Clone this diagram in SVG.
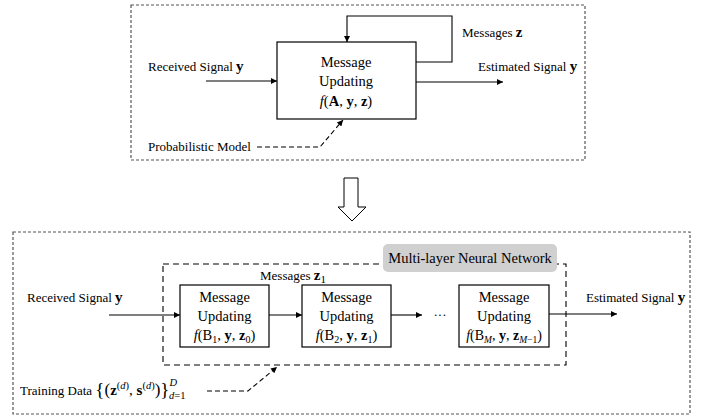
<svg xmlns="http://www.w3.org/2000/svg" width="709" height="420" viewBox="0 0 709 420">
<style>
text{font-family:"Liberation Serif","Times New Roman",serif;fill:#000}
.lbl{font-size:13px}
.box{font-size:14.5px;text-anchor:middle}
.b{font-weight:bold}
.i{font-style:italic}
.node{fill:#fff;stroke:#000;stroke-width:1.2}
.outer{fill:none;stroke:#555;stroke-width:1.2;stroke-dasharray:3,2}
.inner{fill:none;stroke:#000;stroke-width:1.1;stroke-dasharray:6,4}
.line{fill:none;stroke:#000;stroke-width:1.1}
.dash{fill:none;stroke:#000;stroke-width:1.1;stroke-dasharray:5,3}
</style>
<defs>
<marker id="ah" viewBox="0 0 10 10" refX="10" refY="5" markerWidth="8" markerHeight="6" markerUnits="userSpaceOnUse" orient="auto">
<path d="M0,0 L10,5 L0,10 Z" fill="#000"/>
</marker>
</defs>

<g id="top-frame">
<rect class="outer" x="131" y="5" width="454" height="155"/>
</g>
<g id="bottom-frame">
<rect class="outer" x="13" y="232" width="677" height="182"/>
<rect class="inner" x="163" y="264" width="403" height="101"/>
<rect x="383" y="244" width="174" height="28" rx="5" fill="#d0d0d0"/>
<text x="470" y="263" style="font-size:14.5px;text-anchor:middle">Multi-layer Neural Network</text>
</g>

<g id="connectors">
<line class="line" x1="206" y1="81" x2="277" y2="81" marker-end="url(#ah)"/>
<line class="line" x1="416" y1="82" x2="503" y2="82" marker-end="url(#ah)"/>
<polyline class="line" points="416,62 452,62 452,16 347,16 347,42" marker-end="url(#ah)"/>
<polyline class="dash" points="257,147 320,147 343,120" marker-end="url(#ah)"/>
<line class="line" x1="109" y1="315" x2="180" y2="315" marker-end="url(#ah)"/>
<line class="line" x1="269" y1="315" x2="302" y2="315" marker-end="url(#ah)"/>
<line class="line" x1="391" y1="315" x2="422" y2="315" marker-end="url(#ah)"/>
<line class="line" x1="549" y1="314" x2="617" y2="314" marker-end="url(#ah)"/>
<polyline class="dash" points="207,391 248,391 277,367" marker-end="url(#ah)"/>
<path d="M344,178 L358,178 L358,207 L366,207 L352,221 L338,207 L344,207 Z" fill="#fff" stroke="#000" stroke-width="1"/>
</g>

<g id="labels">
<text class="lbl" x="148" y="71">Received Signal <tspan class="b" font-size="15">y</tspan></text>
<text class="lbl" x="478" y="71">Estimated Signal <tspan class="b" font-size="15">y</tspan></text>
<text class="lbl" x="462" y="37">Messages <tspan class="b" font-size="15">z</tspan></text>
<text class="lbl" x="148" y="151">Probabilistic Model</text>
<text class="lbl" x="27" y="302">Received Signal <tspan class="b" font-size="15">y</tspan></text>
<text class="lbl" x="586" y="302">Estimated Signal <tspan class="b" font-size="15">y</tspan></text>
<text class="lbl" x="260" y="280">Messages <tspan class="b" font-size="15">z</tspan><tspan font-size="11" dy="3">1</tspan></text>
<text class="lbl" x="440" y="319" text-anchor="middle">···</text>
<text class="lbl" x="20" y="395">Training Data <tspan font-size="19" dy="1">{</tspan><tspan font-size="17" dy="-1">(</tspan><tspan class="b" font-size="15">z</tspan><tspan font-size="10.5" dy="-6">(<tspan class="i">d</tspan>)</tspan><tspan font-size="15" dy="6">, </tspan><tspan class="b" font-size="15">s</tspan><tspan font-size="10.5" dy="-6">(<tspan class="i">d</tspan>)</tspan><tspan font-size="17" dy="6">)</tspan><tspan font-size="19" dy="1">}</tspan><tspan font-size="10.5" class="i" dy="-10">D</tspan><tspan font-size="10.5" dx="-8" dy="13"><tspan class="i">d</tspan>=1</tspan></text>
</g>

<g id="node-top">
<rect class="node" x="277" y="42" width="139" height="77"/>
<text class="box" x="346" y="67">Message</text>
<text class="box" x="346" y="86">Updating</text>
<text class="box" x="346" y="106"><tspan class="i">f</tspan>(<tspan class="b">A</tspan>, <tspan class="b">y</tspan>, <tspan class="b">z</tspan>)</text>
</g>
<g id="node-1">
<rect class="node" x="180" y="285" width="89" height="62"/>
<text class="box" x="224.5" y="302">Message</text>
<text class="box" x="224.5" y="321">Updating</text>
<text class="box" x="224.5" y="340"><tspan class="i">f</tspan>(B<tspan font-size="10" dy="3">1</tspan><tspan dy="-3">, </tspan><tspan class="b">y</tspan>, <tspan class="b">z</tspan><tspan font-size="10" dy="3">0</tspan><tspan dy="-3">)</tspan></text>
</g>
<g id="node-2">
<rect class="node" x="302" y="285" width="89" height="62"/>
<text class="box" x="346.5" y="302">Message</text>
<text class="box" x="346.5" y="321">Updating</text>
<text class="box" x="346.5" y="340"><tspan class="i">f</tspan>(B<tspan font-size="10" dy="3">2</tspan><tspan dy="-3">, </tspan><tspan class="b">y</tspan>, <tspan class="b">z</tspan><tspan font-size="10" dy="3">1</tspan><tspan dy="-3">)</tspan></text>
</g>
<g id="node-M">
<rect class="node" x="459" y="285" width="90" height="62"/>
<text class="box" x="504" y="302">Message</text>
<text class="box" x="504" y="321">Updating</text>
<text class="box" x="504" y="340" style="font-size:14px"><tspan class="i">f</tspan>(B<tspan font-size="9.5" class="i" dy="3">M</tspan><tspan dy="-3">, </tspan><tspan class="b">y</tspan>, <tspan class="b">z</tspan><tspan font-size="9.5" dy="3"><tspan class="i">M</tspan>−1</tspan><tspan dy="-3">)</tspan></text>
</g>
</svg>
